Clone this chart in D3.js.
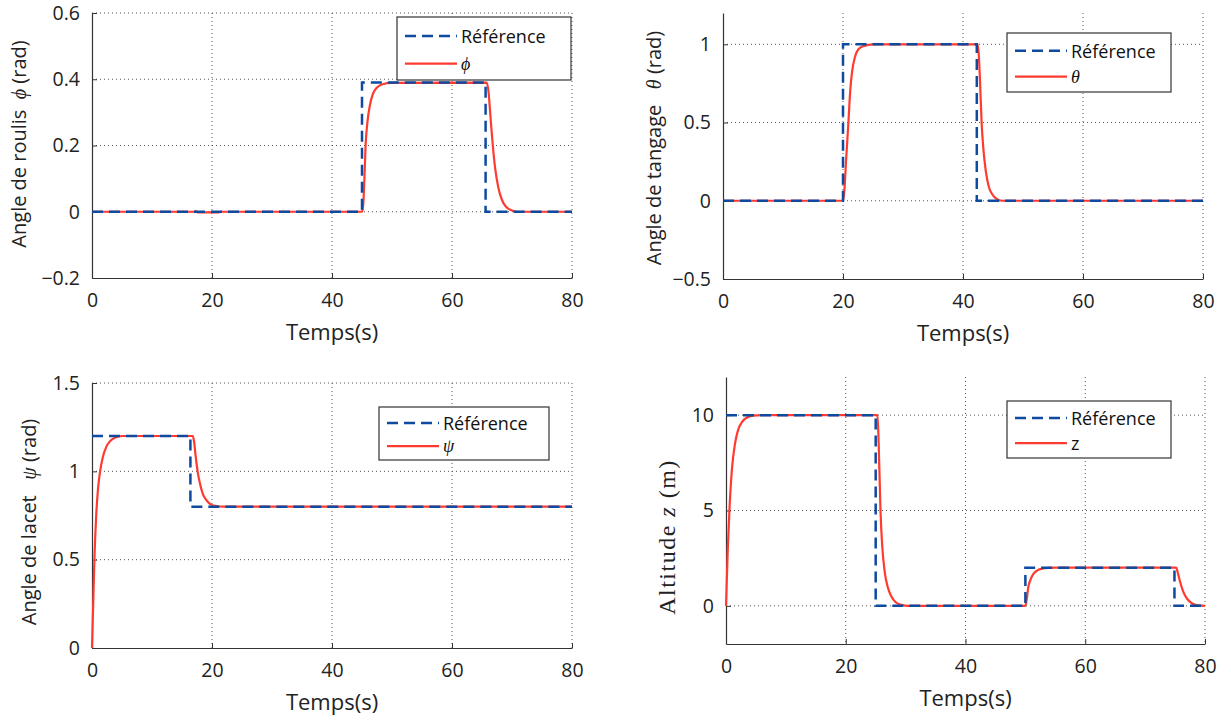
<!DOCTYPE html>
<html>
<head>
<meta charset="utf-8">
<script src="https://cdn.jsdelivr.net/npm/d3@7"></script>
<style>
body { margin: 0; background: #fff; }
svg { display: block; }
</style>
</head>
<body>
<svg id="chart" width="1231" height="720"></svg>
<script>
// ---------- DATA ----------
const xTicks = [0, 20, 40, 60, 80];

// Roll angle phi
const phiRef = [[0,0],[45,0],[45,0.39],[65.6,0.39],[65.6,0],[80,0]];
const phiResp = [[0,0],[17,0],[17.3,0.002],[17.6,-0.002],[21,-0.002],[21.6,0],[45,0],[45.2,0.02],[45.4,0.1],[45.6,0.2],[45.9,0.27],[46.3,0.32],[46.8,0.355],[47.5,0.375],[48.4,0.385],[50,0.389],[65.8,0.39],[66.1,0.36],[66.4,0.29],[66.8,0.2],[67.2,0.13],[67.7,0.075],[68.3,0.037],[69,0.015],[70,0.004],[71,0],[80,0]];
const phiYTicks = [-0.2, 0, 0.2, 0.4, 0.6];

// Pitch angle theta
const thetaRef = [[0,0],[20,0],[20,1],[42.3,1],[42.3,0],[80,0]];
const thetaResp = [[0,0],[20,0],[20.2,0.05],[20.5,0.25],[20.9,0.5],[21.2,0.7],[21.5,0.82],[22,0.92],[22.6,0.97],[23.5,0.99],[25,1],[42.4,1],[42.6,0.95],[42.8,0.8],[43.1,0.5],[43.4,0.33],[43.8,0.19],[44.3,0.09],[44.9,0.04],[45.6,0.012],[46.5,0],[80,0]];
const thetaYTicks = [-0.5, 0, 0.5, 1];

// Yaw angle psi
const psiRef = [[0,1.2],[16.4,1.2],[16.4,0.8],[80,0.8]];
const psiResp = [[0,0],[0.2,0.25],[0.4,0.5],[0.7,0.75],[1.0,0.9],[1.35,1.0],[1.8,1.08],[2.4,1.14],[3,1.17],[3.8,1.19],[5,1.2],[16.8,1.2],[17,1.17],[17.3,1.08],[17.6,1.0],[18,0.93],[18.5,0.87],[19,0.84],[19.7,0.815],[20.5,0.805],[22,0.8],[80,0.8]];
const psiYTicks = [0, 0.5, 1, 1.5];

// Altitude z
const zRef = [[0,10],[25,10],[25,0],[50,0],[50,2],[74.9,2],[74.9,0],[80,0]];
const zResp = [[0,0],[0.3,3],[0.6,5.2],[1,7.2],[1.5,8.5],[2,9.2],[2.7,9.65],[3.5,9.88],[4.5,9.97],[6,10],[25.3,10],[25.5,8.5],[25.8,5],[26.1,3.1],[26.5,1.8],[27,1],[27.6,0.5],[28.3,0.2],[29.3,0.05],[30.5,0],[50,0],[50.2,0.3],[50.5,1],[50.9,1.4],[51.4,1.7],[52,1.86],[52.8,1.95],[54,1.99],[55,2],[75.2,2],[75.4,1.8],[75.8,1.3],[76.3,0.8],[76.9,0.42],[77.6,0.18],[78.4,0.06],[79.5,0.01],[80,0]];
const zYTicks = [0, 5, 10];

const legendLabels = ["Référence"];
// ---------- STYLE ----------
const sans = "'Open Sans', Lato, sans-serif";
const serif = "'Liberation Serif', 'DejaVu Serif', serif";
const blue = "#0d4aa0";
const red = "#ff3b30";

const svg = d3.select("#chart");

const panels = [
  { x0: 92, x1: 572, y0: 13, y1: 278, ydom: [-0.2, 0.6], yticks: phiYTicks, fmt: d => d === 0 ? "0" : d3.format(".1f")(d),
    ref: phiRef, resp: phiResp, sym: "ϕ", symSerif: true,
    ylab: [["Angle de roulis  ", sans, "normal"], ["ϕ", serif, "italic"], [" (rad)", sans, "normal"]], ylabX: 21, ylabY: 144, ylabSize: 20, ls: 0,
    leg: { x: 397, y: 17, w: 174, h: 63 } },
  { x0: 723, x1: 1203, y0: 13, y1: 279, ydom: [-0.5, 1.2], yticks: thetaYTicks, fmt: d => d === 0 ? "0" : (d === 1 ? "1" : d3.format(".1f")(d)),
    ref: thetaRef, resp: thetaResp, sym: "θ", symSerif: true,
    ylab: [["Angle de tangage   ", sans, "normal"], ["θ", serif, "italic"], [" (rad)", sans, "normal"]], ylabX: 656, ylabY: 148, ylabSize: 20, ls: 0,
    leg: { x: 1007, y: 33, w: 164, h: 59 } },
  { x0: 92, x1: 572, y0: 383, y1: 648, ydom: [0, 1.5], yticks: psiYTicks, fmt: d => (d === 0 || d === 1) ? String(d) : d3.format(".1f")(d),
    ref: psiRef, resp: psiResp, sym: "ψ", symSerif: true,
    ylab: [["Angle de lacet   ", sans, "normal"], ["ψ", serif, "italic"], [" (rad)", sans, "normal"]], ylabX: 31, ylabY: 522, ylabSize: 20, ls: 0,
    leg: { x: 379, y: 407, w: 170, h: 53 } },
  { x0: 726, x1: 1205, y0: 377, y1: 644, ydom: [-2, 12], yticks: zYTicks, fmt: d => String(d),
    ref: zRef, resp: zResp, sym: "z", symSerif: false,
    ylab: [["Altitude ", serif, "normal"], ["z", serif, "italic"], [" (m)", serif, "normal"]], ylabX: 669, ylabY: 537, ylabSize: 24, ls: 1.5,
    leg: { x: 1007, y: 401, w: 164, h: 57 } }
];

panels.forEach(p => {
  const x = d3.scaleLinear().domain([0, 80]).range([p.x0, p.x1]);
  const y = d3.scaleLinear().domain(p.ydom).range([p.y1, p.y0]);
  const g = svg.append("g");

  // grid
  g.append("g").selectAll("line").data(xTicks.filter(t => t > 0)).join("line")
    .attr("x1", d => x(d)).attr("x2", d => x(d)).attr("y1", p.y0).attr("y2", p.y1)
    .attr("stroke", "#555").attr("stroke-width", 1).attr("stroke-dasharray", "1,3");
  g.append("g").selectAll("line").data(p.yticks.filter(t => y(t) < p.y1 - 1)).join("line")
    .attr("x1", p.x0).attr("x2", p.x1).attr("y1", d => y(d)).attr("y2", d => y(d))
    .attr("stroke", "#555").attr("stroke-width", 1).attr("stroke-dasharray", "1,3");

  // axes
  const xAxis = d3.axisBottom(x).tickValues(xTicks).tickSizeInner(-5).tickSizeOuter(0).tickPadding(15);
  const yAxis = d3.axisLeft(y).tickValues(p.yticks).tickFormat(p.fmt).tickSizeInner(-5).tickSizeOuter(0).tickPadding(12);
  const gx = g.append("g").attr("transform", `translate(0,${p.y1})`).call(xAxis);
  const gy = g.append("g").attr("transform", `translate(${p.x0},0)`).call(yAxis);
  [gx, gy].forEach(a => {
    a.selectAll("path").attr("stroke", "#333").attr("stroke-width", 1.2);
    a.selectAll("line").attr("stroke", "#333");
    a.selectAll("text").attr("font-family", sans).attr("font-size", 19.5).attr("fill", "#222");
  });

  // lines
  const line = d3.line().x(d => x(d[0])).y(d => y(d[1]));
  const smooth = d3.line().x(d => x(d[0])).y(d => y(d[1])).curve(d3.curveMonotoneX);
  g.append("path").datum(p.resp).attr("d", smooth).attr("fill", "none")
    .attr("stroke", red).attr("stroke-width", 2.2);
  g.append("path").datum(p.ref).attr("d", line).attr("fill", "none")
    .attr("stroke", blue).attr("stroke-width", 2.5).attr("stroke-dasharray", "11,6");

  // x label
  g.append("text").attr("x", (p.x0 + p.x1) / 2).attr("y", p.y1 + 62)
    .attr("text-anchor", "middle").attr("font-family", sans).attr("font-size", 22).attr("fill", "#222")
    .text("Temps(s)");

  // y label
  const yl = g.append("text")
    .attr("transform", `translate(${p.ylabX},${p.ylabY}) rotate(-90)`)
    .attr("text-anchor", "middle").attr("dominant-baseline", "middle")
    .attr("font-size", p.ylabSize).attr("letter-spacing", p.ls).attr("fill", "#222");
  p.ylab.forEach(s => {
    yl.append("tspan").attr("font-family", s[1]).attr("font-style", s[2]).attr("xml:space", "preserve").text(s[0]);
  });

  // legend
  const L = p.leg;
  const lg = g.append("g");
  lg.append("rect").attr("x", L.x).attr("y", L.y).attr("width", L.w).attr("height", L.h)
    .attr("fill", "#fff").attr("stroke", "#333").attr("stroke-width", 1.2);
  const row1 = L.y + L.h * 0.3, row2 = L.y + L.h * 0.74;
  lg.append("line").attr("x1", L.x + 8).attr("x2", L.x + 60).attr("y1", row1).attr("y2", row1)
    .attr("stroke", blue).attr("stroke-width", 2.5).attr("stroke-dasharray", "11,6");
  lg.append("line").attr("x1", L.x + 8).attr("x2", L.x + 60).attr("y1", row2).attr("y2", row2)
    .attr("stroke", red).attr("stroke-width", 2.2);
  lg.append("text").attr("x", L.x + 64).attr("y", row1).attr("dominant-baseline", "central")
    .attr("font-family", sans).attr("font-size", 18).attr("fill", "#111").text(legendLabels[0]);
  lg.append("text").attr("x", L.x + 64).attr("y", row2).attr("dominant-baseline", "central")
    .attr("font-family", p.symSerif ? serif : sans).attr("font-style", p.symSerif ? "italic" : "normal")
    .attr("font-size", 18).attr("fill", "#111").text(p.sym);
});
</script>
</body>
</html>
